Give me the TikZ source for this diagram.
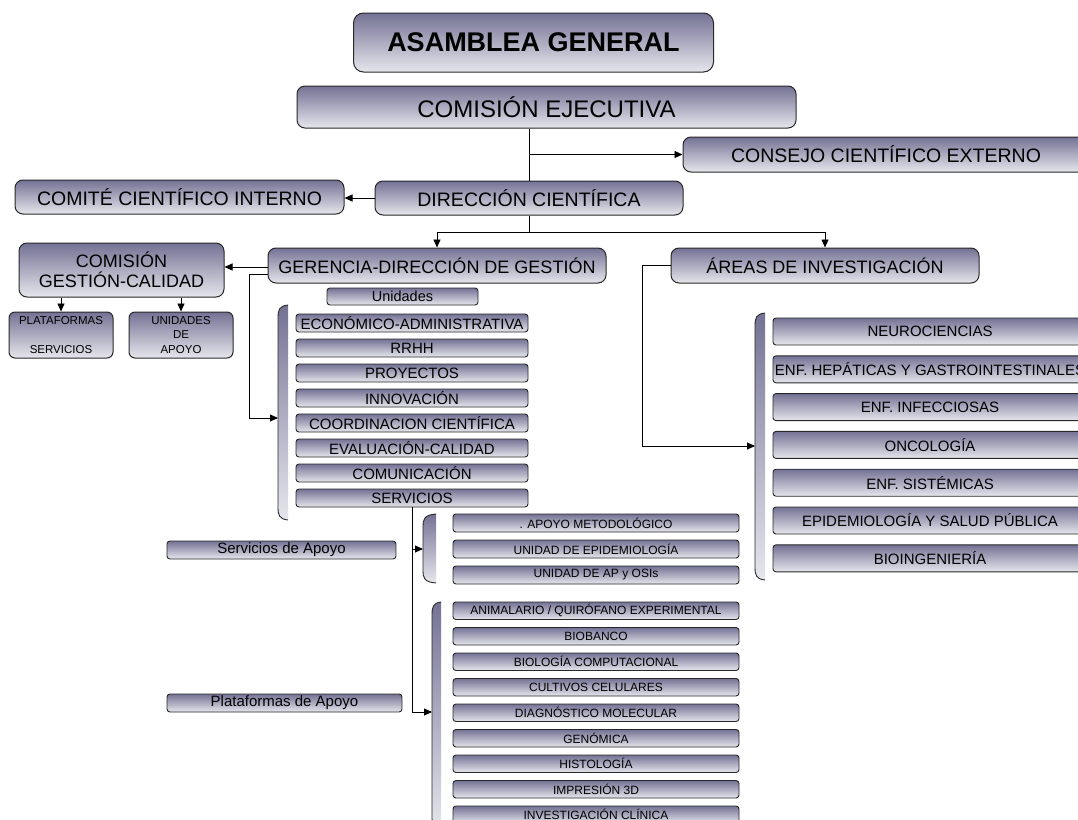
\documentclass[tikz,border=0pt]{standalone}
\usepackage{fontspec}
\setmainfont{Liberation Sans}
\usetikzlibrary{arrows.meta}
\definecolor{boxtop}{RGB}{116,114,148}
\definecolor{boxbot}{RGB}{230,230,237}
\definecolor{edgec}{RGB}{40,40,40}
\newcommand\mybracket[4]{%
  \shade[top color=boxtop, bottom color=boxbot] (#2,#3) .. controls (#1+1,#3+1) and (#1,#3+5) .. (#1,#3+13) -- (#1,#4-13) .. controls (#1,#4-5) and (#1+1,#4-1) .. (#2,#4) -- cycle;
  \draw[edgec, line width=0.9pt] (#2,#3) .. controls (#1+1,#3+1) and (#1,#3+5) .. (#1,#3+13) -- (#1,#4-13) .. controls (#1,#4-5) and (#1+1,#4-1) .. (#2,#4);
}
\tikzset{
  box/.style={draw=edgec, line width=1pt, top color=boxtop, bottom color=boxbot, inner sep=0pt, align=center, text=black},
  bigbox/.style={box, rounded corners=8pt},
  smallbox/.style={box, rounded corners=3pt, line width=0.9pt},
  arr/.style={-{Triangle[length=8pt,width=7pt]}, line width=0.9pt},
  conn/.style={line width=0.9pt},
  unitbox/.style={smallbox, minimum width=232pt, minimum height=18pt, font=\fontsize{15}{16}\selectfont},
  svcbox/.style={smallbox, minimum width=286pt, minimum height=18pt, font=\fontsize{12}{14}\selectfont},
  platbox/.style={smallbox, minimum width=286pt, minimum height=17.5pt, font=\fontsize{12}{14}\selectfont},
  areabox/.style={smallbox, minimum width=314pt, minimum height=27pt, font=\fontsize{15}{17}\selectfont},
}
\begin{document}
\begin{tikzpicture}[x=1pt, y=-1pt]
\useasboundingbox (0,0) rectangle (1078,819);
\clip (0,0) rectangle (1078,819);
\fill[white] (0,0) rectangle (1078,819);

% top level
\node[bigbox, rounded corners=10pt, minimum width=360pt, minimum height=59pt, font=\fontsize{27}{30}\selectfont\bfseries] (asamblea) at (533.5,42.5) {ASAMBLEA GENERAL};
\node[bigbox, minimum width=499pt, minimum height=42pt, font=\fontsize{24}{27}\selectfont] (comision) at (546.5,107) {COMISIÓN EJECUTIVA};
\node[bigbox, minimum width=406pt, minimum height=35pt, font=\fontsize{19.5}{22}\selectfont] (consejo) at (886,154.5) {CONSEJO CIENTÍFICO EXTERNO};
\node[bigbox, minimum width=308pt, minimum height=34pt, font=\fontsize{19.5}{22}\selectfont] (direccion) at (529,198) {DIRECCIÓN CIENTÍFICA};
\node[bigbox, minimum width=329pt, minimum height=34pt, font=\fontsize{19.5}{22}\selectfont] (comite) at (179.5,197) {COMITÉ CIENTÍFICO INTERNO};
\node[bigbox, minimum width=338pt, minimum height=35pt, font=\fontsize{18}{20}\selectfont] (gerencia) at (437,265.5) {GERENCIA-DIRECCIÓN DE GESTIÓN};
\node[bigbox, minimum width=308pt, minimum height=35pt, font=\fontsize{18}{20}\selectfont] (areas) at (825,265.5) {ÁREAS DE INVESTIGACIÓN};
\node[bigbox, minimum width=205pt, minimum height=54pt, font=\fontsize{18}{20.5}\selectfont] (cgc) at (121.5,270) {COMISIÓN\\GESTIÓN-CALIDAD};
\node[bigbox, rounded corners=6pt, minimum width=104pt, minimum height=46pt, font=\fontsize{11.5}{14.5}\selectfont] (plat) at (61,335) {PLATAFORMAS\\[14.5pt]SERVICIOS};
\node[bigbox, rounded corners=6pt, minimum width=104pt, minimum height=46pt, font=\fontsize{11.5}{14.5}\selectfont] (uapoyo) at (181,335) {UNIDADES\\DE\\APOYO};

% unidades
\node[smallbox, minimum width=151pt, minimum height=17pt, font=\fontsize{14.5}{16}\selectfont] (unidades) at (402.5,296.5) {Unidades};
\foreach \t [count=\i] in {ECONÓMICO-ADMINISTRATIVA, RRHH, PROYECTOS, INNOVACIÓN, COORDINACION CIENTÍFICA, EVALUACIÓN-CALIDAD, COMUNICACIÓN, SERVICIOS}
  \node[unitbox] (u\i) at (412,{323+25*(\i-1)}) {\t};

% servicios de apoyo
\node[smallbox, minimum width=229pt, minimum height=18pt, font=\fontsize{15}{17}\selectfont] (svlabel) at (281.5,550) {Servicios de Apoyo};
\node[svcbox] (s1) at (596,523) {. APOYO METODOLÓGICO};
\node[svcbox] (s2) at (596,549) {UNIDAD DE EPIDEMIOLOGÍA};
\node[svcbox] (s3) at (596,575) {UNIDAD DE AP y OSIs};

% plataformas de apoyo
\node[smallbox, minimum width=235pt, minimum height=18pt, font=\fontsize{15}{17}\selectfont] (pllabel) at (284.5,703) {Plataformas de Apoyo};
\foreach \t [count=\i] in {ANIMALARIO / QUIRÓFANO EXPERIMENTAL, BIOBANCO, BIOLOGÍA COMPUTACIONAL, CULTIVOS CELULARES, DIAGNÓSTICO MOLECULAR, GENÓMICA, HISTOLOGÍA, IMPRESIÓN 3D, INVESTIGACIÓN CLÍNICA}
  \node[platbox] (p\i) at (596,{610.75+25.5*(\i-1)}) {\t};

% areas de investigacion
\foreach \t [count=\i] in {NEUROCIENCIAS, ENF. HEPÁTICAS Y GASTROINTESTINALES, ENF. INFECCIOSAS, ONCOLOGÍA, ENF. SISTÉMICAS, EPIDEMIOLOGÍA Y SALUD PÚBLICA, BIOINGENIERÍA}
  \node[areabox] (a\i) at (930,{331.5+37.8*(\i-1)}) {\t};

% brackets
\mybracket{278}{288}{305}{520}
\mybracket{423}{436}{514}{583}
\mybracket{432}{441}{602}{830}
\mybracket{755}{765}{313}{580}
\coordinate (b1) at (278,418);
\coordinate (b2) at (423,549);
\coordinate (b3) at (432,712);
\coordinate (b4) at (755,446);
\coordinate (split) at (529,232);
\coordinate (svend) at (412,712);

% connectors
\draw[conn] (comision.south -| direccion.north) -- (direccion.north);
\draw[arr] (direccion.north |- consejo.west) -- (consejo.west);
\draw[arr] (direccion.west) -- (direccion.west -| comite.east);
\draw[conn] (direccion.south) -- (split);
\draw[arr] (split) -| (gerencia.north);
\draw[arr] (split) -| (areas.north);
\draw[arr] ([yshift=-1.5pt]gerencia.west) -- ([yshift=-1.5pt]gerencia.west -| cgc.east);
\draw[arr] (plat.north |- cgc.south) -- (plat.north);
\draw[arr] (uapoyo.north |- cgc.south) -- (uapoyo.north);
\draw[arr] ([yshift=-8.5pt]gerencia.west) -- ++(-18,0) |- (b1);
\draw[arr] (areas.west) -- ++(-28,0) |- (b4);
\draw[conn] (u8.south) -- (svend);
\draw[arr] (u8.south |- b2) -- (b2);
\draw[arr] (svend) -- (b3);
\end{tikzpicture}
\end{document}
